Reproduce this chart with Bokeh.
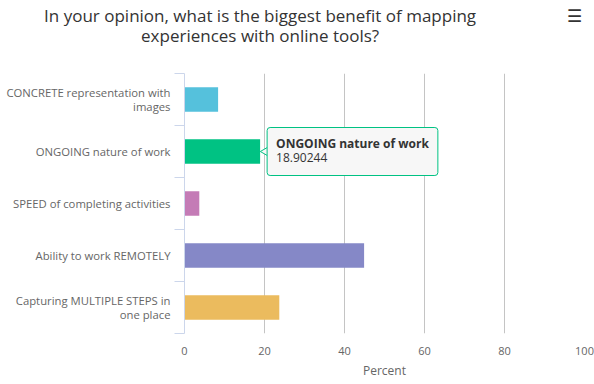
import math
from bokeh.plotting import figure
from bokeh.models import (Range1d, FixedTicker, ColumnDataSource, Label, LinearAxis)
from bokeh.embed import file_html
from bokeh.resources import INLINE

# ---- data ----
title_lines = ["In your opinion, what is the biggest benefit of mapping",
               "experiences with online tools?"]
menu_icon = "\u2630"
categories = ["CONCRETE representation with images",
              "ONGOING nature of work",
              "SPEED of completing activities",
              "Ability to work REMOTELY",
              "Capturing MULTIPLE STEPS in one place"]
category_labels = ["CONCRETE representation with\nimages",
                   "ONGOING nature of work",
                   "SPEED of completing activities",
                   "Ability to work REMOTELY",
                   "Capturing MULTIPLE STEPS in\none place"]
percents = [8.4, 18.90244, 3.7, 44.9, 23.7]
bar_colors = ["#55c1dc", "#00c283", "#c47bb6", "#8588c7", "#ebbb5e"]
x_ticks = [0, 20, 40, 60, 80, 100]
x_title = "Percent"
tooltip_index = 1

FONT = "Open Sans"
LABEL_COLOR = "#666666"
TITLE_COLOR = "#333333"
N = len(categories)
slot = [N - i - 0.5 for i in range(N)]   # category slot centres, first on top

src = ColumnDataSource(dict(cat=categories, y=slot, pct=percents, color=bar_colors))

p = figure(width=594, height=384,
           y_range=Range1d(0, N), x_range=Range1d(0, 100),
           output_backend="svg", toolbar_location=None,
           min_border_left=184, min_border_right=10,
           min_border_top=70, min_border_bottom=51)
p.outline_line_color = None
p.background_fill_color = "white"

# left axis: category names at slot centres, tick marks at slot boundaries
ya = p.yaxis[0]
ya.ticker = FixedTicker(ticks=slot, minor_ticks=list(range(N + 1)))
ya.major_label_overrides = {s: lab for s, lab in zip(slot, category_labels)}
ya.axis_line_color = "#ccd6eb"
ya.major_tick_line_color = None
ya.major_tick_out = 0
ya.major_tick_in = 0
ya.minor_tick_line_color = "#ccd6eb"
ya.minor_tick_out = 10
ya.minor_tick_in = 0
ya.major_label_standoff = 4
ya.major_label_text_font = FONT
ya.major_label_text_font_size = "11.3px"
ya.major_label_text_color = LABEL_COLOR
ya.major_label_text_line_height = 0.92

p.ygrid.grid_line_color = None
p.xgrid.ticker = x_ticks
p.xgrid.grid_line_color = "#c4c4c4"

xa = p.xaxis[0]
xa.ticker = x_ticks
xa.axis_line_color = None
xa.major_tick_line_color = None
xa.minor_tick_line_color = None
xa.major_label_text_font = FONT
xa.major_label_text_font_size = "11px"
xa.major_label_text_color = LABEL_COLOR
xa.major_label_standoff = 7
xa.axis_label = x_title
xa.axis_label_text_font = FONT
xa.axis_label_text_font_size = "12px"
xa.axis_label_text_font_style = "normal"
xa.axis_label_text_color = LABEL_COLOR
xa.axis_label_standoff = 4

p.hbar(y="y", left=0, right="pct", height=0.47, color="color",
       line_color=None, source=src)

# title rows (and export-menu icon) as label-only axes above the plot area
title_x = 18.9      # horizontal centre of the title, in x-axis units
menu_x = 97.4


def text_row(ticks, texts, standoff):
    ax = LinearAxis(ticker=FixedTicker(ticks=ticks, minor_ticks=[]),
                    major_label_overrides=dict(zip(ticks, texts)),
                    axis_line_color=None, major_tick_line_color=None,
                    minor_tick_line_color=None, major_tick_out=0, major_tick_in=0,
                    minor_tick_out=0, minor_tick_in=0,
                    major_label_standoff=standoff,
                    major_label_text_font=FONT, major_label_text_font_size="17px",
                    major_label_text_color=TITLE_COLOR)
    return ax


row2 = text_row([title_x], [title_lines[1]], 27)
row1 = text_row([title_x, menu_x], [title_lines[0], menu_icon], -6)
p.add_layout(row2, "above")
p.add_layout(row1, "above")

# tooltip
tc = categories[tooltip_index]
tv = percents[tooltip_index]
ty = slot[tooltip_index]
tip_color = bar_colors[tooltip_index]
p.scatter(x=[tv + 1.5], y=[ty], marker="triangle", size=10, angle=math.pi / 2,
          fill_color="#f7f7f7", line_color=tip_color, line_width=1)
p.add_layout(Label(x=tv, y=ty, x_offset=7, y_offset=0,
                   text=tc, text_align="left", text_baseline="middle",
                   text_font=FONT, text_font_size="12px", text_font_style="bold",
                   text_color=TITLE_COLOR,
                   background_fill_color="#f7f7f7", background_fill_alpha=1.0,
                   border_line_color=tip_color, border_line_width=1,
                   border_radius=3,
                   padding=dict(left=9, right=9, top=7, bottom=24)))
p.add_layout(Label(x=tv, y=ty, x_offset=16, y_offset=-6,
                   text=f"{tv:.5f}", text_align="left", text_baseline="middle",
                   text_font=FONT, text_font_size="12px",
                   text_color=TITLE_COLOR))

open("out.html", "w").write(file_html(p, INLINE))
